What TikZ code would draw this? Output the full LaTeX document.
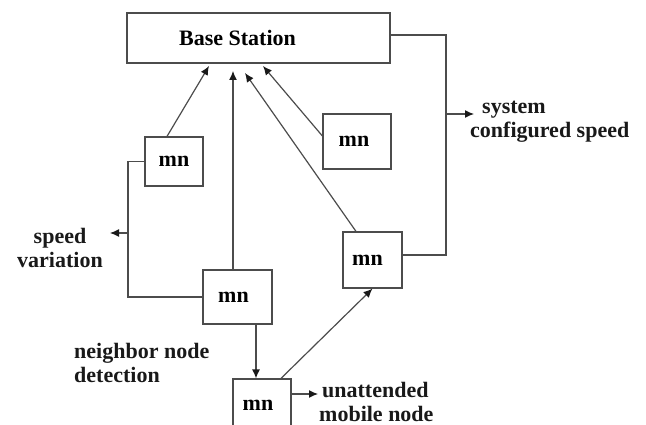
\documentclass[tikz,border=0pt]{standalone}
\usepackage{fontspec}
\setmainfont{Liberation Serif}
\usetikzlibrary{arrows.meta,calc}
\begin{document}
\begin{tikzpicture}[x=1pt,y=-1pt,
  lbl/.style={font=\fontsize{22}{24}\selectfont\bfseries, inner sep=0pt, text=black!90},
  box/.style={draw=black!70, line width=1.2pt, fill=white, inner sep=0pt,
              font=\fontsize{22}{24}\selectfont\bfseries},
  mnbox/.style={box, minimum width=58pt, minimum height=52pt},
  wire/.style={draw=black!70, line width=1.2pt},
  arr/.style={wire, -{Latex[length=9pt,width=8pt,color=black!90]}}]
\clip (0,0) rectangle (646,425);

% base station and mobile nodes
\node[box, minimum width=263pt, minimum height=50pt] (bs) at (258.5,38) {\raisebox{-3pt}{Base Station}\kern42pt};
\node[mnbox, minimum height=49pt] (m1) at (174,161.5) {\raisebox{-3pt}{mn}};
\node[mnbox, minimum width=68pt, minimum height=55pt] (m2) at (357,141.5) {\raisebox{-3pt}{mn}\kern6pt};
\node[mnbox, minimum width=69pt, minimum height=54pt] (m3) at (237.5,297) {\raisebox{-1pt}{mn}\kern8pt};
\node[mnbox, minimum width=59pt, minimum height=56pt] (m4) at (372.5,260) {\raisebox{-7pt}{mn}\kern10pt};
\node[mnbox, minimum height=56pt] (m5) at (262,407) {\raisebox{3pt}{mn}\kern8pt};

% labels (anchored on the baseline of their last line)
\node[lbl, align=center, anchor=base] (sv) at (60,267) {speed\\variation};
\node[lbl, align=left, anchor=base west] (scs) at (470,138) {\hspace*{12pt}system\\configured speed};
\node[lbl, align=left, anchor=base west] (nnd) at (74,382) {neighbor node\\detection};
\node[lbl, align=left, anchor=base west] (umn) at (319,421) {\hspace*{3pt}unattended\\mobile node};

% arrow tips under the base station and at the labels
\coordinate (in1) at (209,66);
\coordinate (in2) at (233,71);
\coordinate (in3) at (245,73);
\coordinate (in4) at (263,66);
\coordinate (j1) at (446,114);
\coordinate (sysin) at (474,114);
\coordinate (j2) at (128,233);
\coordinate (svin) at (110,233);
\coordinate (umnin) at (318,394);

% uplinks to the base station
\draw[arr] ([xshift=-7pt]m1.north) -- (in1);
\draw[arr] ([xshift=-4.5pt]m3.north) -- (in2);
\draw[arr] ([xshift=-16.5pt]m4.north) -- (in3);
\draw[arr] ([yshift=5.5pt]m2.west) -- (in4);

% system configured speed feedback
\draw[wire] ([yshift=3pt]bs.east) -- (446,35) |- ([yshift=5pt]m4.east);
\draw[arr] (j1) -- (sysin);

% speed variation loop
\draw[wire] (m1.west) -- (128,161.5) |- (m3.west);
\draw[arr] (j2) -- (svin);

% neighbour detection and unattended mobile node
\draw[arr] ([xshift=18.5pt]m3.south) -- ([xshift=-6pt]m5.north);
\draw[arr] ([xshift=19pt]m5.north) -- (m4.south);
\draw[arr] ([yshift=13pt]m5.east) -- (umnin);
\end{tikzpicture}
\end{document}
